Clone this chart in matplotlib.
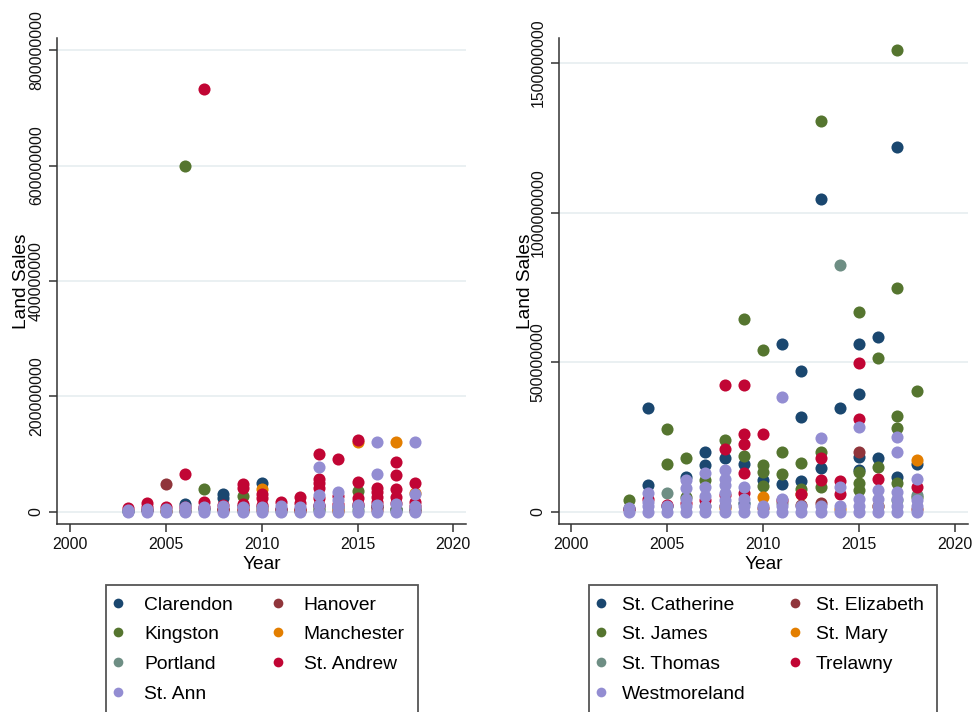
import matplotlib
matplotlib.use("Agg")
import matplotlib.pyplot as plt
from matplotlib.lines import Line2D
from matplotlib.patches import Rectangle

plt.rcParams["font.family"] = ["Liberation Sans", "DejaVu Sans"]

# Stata s2color palette
NAVY, MAROON, GREEN, ORANGE = "#1a476f", "#90353b", "#55752f", "#e37e00"
TEAL, CRANBERRY, LAVENDER = "#6e8e84", "#c10534", "#938dd2"
COLORS = [NAVY, MAROON, GREEN, ORANGE, TEAL, CRANBERRY, LAVENDER]

# ---- left panel data (land sales in millions) ----
LEFT_NAMES = ["Clarendon", "Hanover", "Kingston", "Manchester",
              "Portland", "St. Andrew", "St. Ann"]

clarendon_yr = [2003, 2004, 2005, 2006, 2007, 2008, 2008, 2009, 2010, 2011,
                2012, 2013, 2014, 2015, 2016, 2017, 2018]
clarendon_val = [2, 3, 2, 14, 5, 32, 25, 10, 50, 5, 4, 10, 8, 10, 8, 6, 5]

hanover_yr = [2004, 2005, 2006, 2008, 2010, 2012, 2014, 2016, 2018]
hanover_val = [3, 48, 2, 4, 3, 2, 3, 4, 2]

kingston_yr = [2006, 2007, 2008, 2009, 2010, 2013, 2015, 2016, 2017]
kingston_val = [599, 40, 5, 28, 8, 6, 36, 10, 5]

manchester_yr = [2005, 2009, 2010, 2012, 2014, 2015, 2017, 2018]
manchester_val = [2, 4, 39, 3, 2, 122, 122, 33]

portland_yr = [2003, 2006, 2009, 2011, 2013, 2015, 2017]
portland_val = [1, 3, 2, 2, 4, 3, 2]

st_andrew_yr = [2003, 2004, 2004, 2005, 2006, 2006, 2007, 2007, 2007,
                2008, 2008, 2009, 2009, 2009, 2009, 2010, 2010, 2010,
                2011, 2011, 2012, 2012, 2012,
                2013, 2013, 2013, 2013, 2013, 2013, 2014, 2014, 2014,
                2015, 2015, 2015, 2015, 2016, 2016, 2016, 2016, 2016,
                2017, 2017, 2017, 2017, 2017, 2018, 2018, 2018]
st_andrew_val = [7, 16, 8, 9, 66, 9, 732, 17, 8,
                 12, 6, 48, 41, 14, 6, 32, 24, 12,
                 18, 6, 26, 16, 6,
                 100, 57, 50, 41, 25, 12, 91, 27, 14,
                 125, 52, 25, 14, 41, 34, 26, 18, 10,
                 87, 64, 40, 26, 16, 51, 18, 10]

st_ann_yr = [2003, 2004, 2005, 2006, 2007, 2008, 2009, 2010, 2011, 2012,
             2013, 2014, 2015, 2016, 2017, 2018,
             2003, 2004, 2005, 2006, 2007, 2008, 2009, 2010, 2011, 2012,
             2013, 2014, 2015, 2016, 2017, 2018,
             2013, 2013, 2014, 2014, 2016, 2016, 2018, 2018]
st_ann_val = [0] * 16 + [4, 6, 5, 8, 8, 10, 8, 8, 10, 8,
                         12, 10, 12, 12, 14, 10,
                         78, 29, 35, 20, 122, 65, 122, 31]

# ---- right panel data (land sales in millions) ----
RIGHT_NAMES = ["St. Catherine", "St. Elizabeth", "St. James", "St. Mary",
               "St. Thomas", "Trelawny", "Westmoreland"]

st_catherine_yr = [2003, 2004, 2004, 2005, 2006, 2007, 2007, 2008, 2009, 2009,
                   2010, 2011, 2011, 2012, 2012, 2012, 2013, 2013, 2014,
                   2015, 2015, 2015, 2015, 2016, 2016, 2017, 2017, 2018]
st_catherine_val = [10, 349, 90, 20, 118, 199, 156, 182, 162, 30,
                    106, 560, 92, 472, 318, 103, 1047, 148, 349,
                    560, 393, 184, 140, 584, 180, 1219, 116, 161]

st_elizabeth_yr = [2008, 2010, 2012, 2013, 2015, 2016, 2018]
st_elizabeth_val = [20, 15, 25, 30, 200, 20, 10]

st_james_yr = [2003, 2005, 2005, 2006, 2006, 2007, 2008, 2009, 2009,
               2010, 2010, 2010, 2010, 2011, 2011, 2012, 2012,
               2013, 2013, 2013, 2015, 2015, 2015, 2015, 2016, 2016,
               2017, 2017, 2017, 2017, 2017, 2018, 2018]
st_james_val = [40, 278, 160, 179, 51, 107, 242, 645, 186,
                541, 157, 133, 86, 199, 127, 164, 76,
                1305, 202, 85, 667, 134, 96, 74, 516, 150,
                1543, 749, 320, 282, 97, 405, 51]

st_mary_yr = [2008, 2010, 2012, 2014, 2016, 2018]
st_mary_val = [15, 51, 60, 10, 20, 174]

st_thomas_yr = [2003, 2005, 2007, 2011, 2014, 2017, 2018]
st_thomas_val = [15, 64, 20, 30, 824, 40, 57]

trelawny_yr = [2003, 2004, 2005, 2006, 2007, 2008, 2008, 2008,
               2009, 2009, 2009, 2009, 2009, 2010, 2011, 2012,
               2013, 2013, 2014, 2014, 2015, 2015, 2016, 2018]
trelawny_val = [10, 43, 25, 30, 40, 424, 209, 57,
                424, 262, 227, 131, 62, 260, 40, 60,
                179, 107, 105, 60, 499, 310, 109, 82]

westmoreland_yr = [2003, 2004, 2005, 2006, 2007, 2008, 2009, 2010, 2011,
                   2012, 2013, 2014, 2015, 2016, 2017, 2018,
                   2003, 2004, 2005, 2006, 2007, 2008, 2009, 2010, 2011,
                   2012, 2013, 2014, 2015, 2016, 2017, 2018,
                   2004, 2004, 2006, 2006, 2006, 2007, 2007, 2007,
                   2008, 2008, 2008, 2008, 2008, 2009, 2009, 2011, 2011,
                   2013, 2014, 2015, 2015, 2016, 2016,
                   2017, 2017, 2017, 2017, 2018, 2018]
westmoreland_val = [0] * 16 + [15, 20, 20, 20, 20, 20, 20, 20, 20,
                               20, 20, 20, 20, 20, 20, 20,
                               63, 35, 107, 79, 45, 131, 85, 55,
                               140, 112, 90, 65, 40, 85, 45, 385, 45,
                               246, 82, 285, 45, 73, 45,
                               249, 199, 68, 45, 110, 40]

LEFT_DATA = [(clarendon_yr, clarendon_val), (hanover_yr, hanover_val),
             (kingston_yr, kingston_val), (manchester_yr, manchester_val),
             (portland_yr, portland_val), (st_andrew_yr, st_andrew_val),
             (st_ann_yr, st_ann_val)]
RIGHT_DATA = [(st_catherine_yr, st_catherine_val), (st_elizabeth_yr, st_elizabeth_val),
              (st_james_yr, st_james_val), (st_mary_yr, st_mary_val),
              (st_thomas_yr, st_thomas_val), (trelawny_yr, trelawny_val),
              (westmoreland_yr, westmoreland_val)]

W, H = 974, 712
fig = plt.figure(figsize=(W / 100, H / 100), dpi=100)
fig.patch.set_facecolor("white")


def px_rect(x0, y0, x1, y1):
    return [x0 / W, 1 - y1 / H, (x1 - x0) / W, (y1 - y0) / H]


def draw_panel(rect, data, yticks, ylim, xlim, ylabel_x):
    ax = fig.add_axes(rect)
    for (yr, val), c in zip(data, COLORS):
        ax.plot(yr, [v * 1e6 for v in val], "o", color=c, ms=8.7, mew=0,
                clip_on=False, zorder=3)
    ax.set_xlim(*xlim)
    ax.set_ylim(ylim[0] * 1e6, ylim[1] * 1e6)
    ax.set_xticks([2000, 2005, 2010, 2015, 2020])
    ax.set_yticks([t * 1e6 for t in yticks])
    ax.set_yticklabels([str(int(t * 1e6)) for t in yticks], rotation=90, va="center")
    ax.grid(axis="y", color="#e6eef0", lw=1.2, zorder=0)
    ax.grid(axis="x", visible=False)
    for s in ("top", "right"):
        ax.spines[s].set_visible(False)
    for s in ("left", "bottom"):
        ax.spines[s].set_color("#333333")
        ax.spines[s].set_linewidth(1.1)
    ax.tick_params(length=5.5, width=1.1, color="#333333", labelsize=11.4,
                   labelcolor="#111111", pad=4)
    ax.set_xlabel("Year", fontsize=13.8, labelpad=3)
    ax.set_ylabel("Land Sales", fontsize=13.8)
    # place the y title at a fixed pixel x, vertically centred on the axis
    ax.yaxis.set_label_coords(ylabel_x / W, 0.5, transform=fig.transFigure)
    ax.yaxis.label.set_transform(
        matplotlib.transforms.blended_transform_factory(fig.transFigure, ax.transAxes))
    ax.yaxis.label.set_position((ylabel_x / W, 0.5))
    ax.yaxis.label.set_va("center")
    return ax


ax1 = draw_panel(px_rect(57, 38, 466, 524), LEFT_DATA,
                 [0, 200, 400, 600, 800], (-20.8, 820.8), (1999.31, 2020.66), 22)
ax2 = draw_panel(px_rect(559, 38, 968, 524), RIGHT_DATA,
                 [0, 500, 1000, 1500], (-40, 1583.7), (1999.375, 2020.68), 526)


def add_legend(names, x_marker, top, textpad, colspace, box):
    order = [0, 2, 4, 6, 1, 3, 5]
    handles = [Line2D([], [], ls="none", marker="o", ms=7, mew=0, color=COLORS[i])
               for i in order]
    labels = [names[i] for i in order]
    fs = 13.9
    em = fs * 100 / 72
    x0 = x_marker - em * 0.5
    fig.legend(handles, labels, ncol=2, loc="upper left",
               bbox_to_anchor=(x0 / W, 1 - top / H), frameon=False,
               fontsize=fs, borderpad=0, borderaxespad=0, handlelength=1.0,
               handletextpad=textpad, columnspacing=colspace, labelspacing=0.63)
    bx0, by0, bx1 = box
    fig.patches.append(Rectangle((bx0 / W, -0.05), (bx1 - bx0) / W,
                                 (1 - by0 / H) + 0.05, transform=fig.transFigure,
                                 fill=False, edgecolor="#555555", lw=1.3))


add_legend(LEFT_NAMES, 118, 596, 0.85, 1.83, (106, 585, 418))
add_legend(RIGHT_NAMES, 601, 596, 0.59, 2.04, (589, 585, 937))

fig.savefig("out.png", dpi=100)
